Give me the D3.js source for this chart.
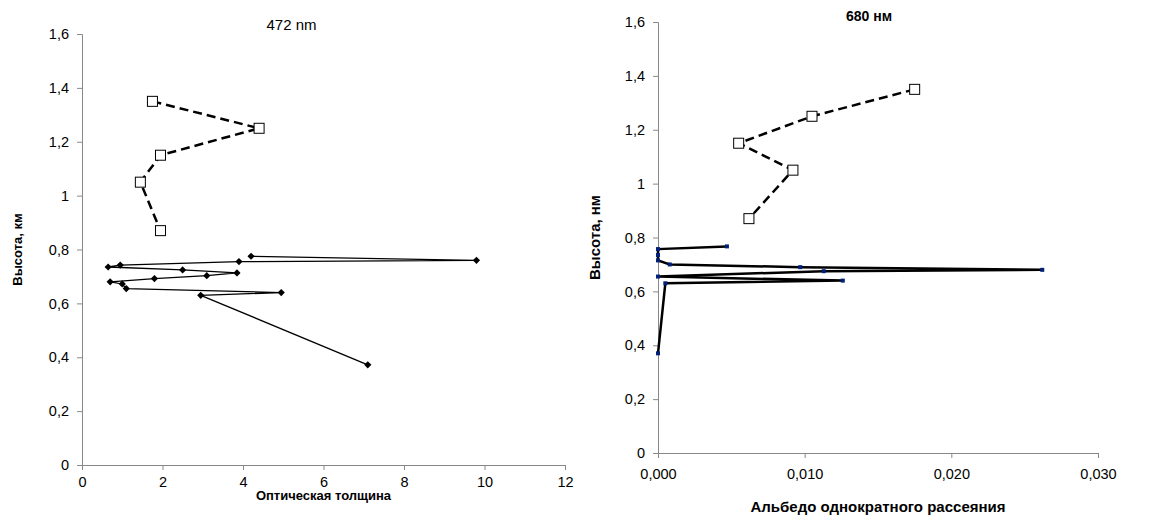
<!DOCTYPE html>
<html><head><meta charset="utf-8">
<script src="https://cdn.jsdelivr.net/npm/d3@7"></script>
<style>body{margin:0;background:#fff;font-family:"Liberation Sans",Arial,sans-serif}</style>
</head><body><div id="chart"></div>
<script>
// left panel: optical thickness at 472 nm
let leftSolidX = [4.2, 9.8, 3.9, 0.95, 0.65, 2.5, 3.85, 3.1, 1.8, 0.7, 1.0, 1.1, 4.95, 2.95, 7.1];
let leftSolidY = [0.775, 0.76, 0.755, 0.742, 0.735, 0.724, 0.713, 0.703, 0.692, 0.68, 0.672, 0.655, 0.64, 0.63, 0.372];
let leftDashX = [1.75, 4.4, 1.95, 1.45, 1.95];
let leftDashY = [1.35, 1.25, 1.15, 1.05, 0.87];
// right panel: single scattering albedo at 680 nm
let rightSolidX = [0.0047, 0, 0, 0, 0.0008, 0.0097, 0.0262, 0.0113, 0, 0.0126, 0.0005, 0];
let rightSolidY = [0.767, 0.757, 0.735, 0.715, 0.70, 0.69, 0.68, 0.675, 0.655, 0.64, 0.63, 0.37];
let rightDashX = [0.0175, 0.0105, 0.0055, 0.0092, 0.0062];
let rightDashY = [1.35, 1.25, 1.15, 1.05, 0.87];
let yTicks = [0, 0.2, 0.4, 0.6, 0.8, 1, 1.2, 1.4, 1.6];
let leftXTicks = [0, 2, 4, 6, 8, 10, 12];
let rightXTicks = [0, 0.01, 0.02, 0.03];

let svg = d3.select("#chart").append("svg").attr("width", 1152).attr("height", 527);
let comma = d => String(d).replace(".", ",");

function panel(o) {
  let x = d3.scaleLinear().domain(o.xd).range([o.l, o.r]);
  let y = d3.scaleLinear().domain([0, 1.6]).range([o.b, o.t]);
  let g = svg.append("g");
  g.append("g").attr("transform", "translate(0," + o.b + ")")
    .call(d3.axisBottom(x).tickValues(o.xt).tickFormat(o.xf).tickSizeOuter(0).tickSize(5).tickPadding(o.xpad));
  g.append("g").attr("transform", "translate(" + o.l + ",0)")
    .call(d3.axisLeft(y).tickValues(yTicks).tickFormat(comma).tickSizeOuter(0).tickSize(5).tickPadding(o.ypad));
  g.selectAll(".domain,.tick line").attr("stroke", "#888");
  g.selectAll(".tick text").attr("font-size", 14.5).attr("fill", "#000")
    .attr("font-family", "Liberation Sans, Arial");
  let line = d3.line().x(d => x(d[0])).y(d => y(d[1]));
  let solid = o.sx.map((v, i) => [v, o.sy[i]]);
  let dash = o.dx.map((v, i) => [v, o.dy[i]]);
  g.append("path").attr("d", line(solid)).attr("fill", "none").attr("stroke", "#000").attr("stroke-width", o.sw);
  g.append("path").attr("d", line(dash)).attr("fill", "none").attr("stroke", "#000")
    .attr("stroke-width", 2.5).attr("stroke-dasharray", "9,5");
  if (o.diamond) {
    g.selectAll(".m").data(solid).enter().append("path")
      .attr("d", d3.symbol(d3.symbolSquare, 26)())
      .attr("transform", d => "translate(" + x(d[0]) + "," + y(d[1]) + ") rotate(45)");
  } else {
    g.selectAll(".m").data(solid).enter().append("rect")
      .attr("x", d => x(d[0]) - 2).attr("y", d => y(d[1]) - 2).attr("width", 4).attr("height", 4)
      .attr("fill", "#00207a");
  }
  g.selectAll(".s").data(dash).enter().append("rect")
    .attr("x", d => x(d[0]) - 5).attr("y", d => y(d[1]) - 5).attr("width", 10).attr("height", 10)
    .attr("fill", "#fff").attr("stroke", "#000").attr("stroke-width", 1);
  g.append("text").attr("x", (o.l + o.r) / 2 + o.tdx).attr("y", o.ty).attr("text-anchor", "middle")
    .attr("font-size", o.tfs).attr("font-weight", o.tw).text(o.title);
  g.append("text").attr("x", (o.l + o.r) / 2).attr("y", o.xly).attr("text-anchor", "middle")
    .attr("font-size", o.lfs).attr("font-weight", "bold").text(o.xlabel);
  g.append("text").attr("transform", "translate(" + o.ylx + "," + (o.t + o.b) / 2 + ") rotate(-90)")
    .attr("text-anchor", "middle").attr("font-size", o.lfs).attr("font-weight", "bold").text(o.ylabel);
}

panel({l: 82, r: 565, t: 34, b: 465, xd: [0, 12], xt: leftXTicks, xf: d => d, xpad: 7, ypad: 8,
  sx: leftSolidX, sy: leftSolidY, dx: leftDashX, dy: leftDashY, sw: 1.3, diamond: true,
  title: "472 nm", tfs: 15, tw: "normal", ty: 30, tdx: -32,
  xlabel: "Оптическая толщина", xly: 500, ylabel: "Высота, км", ylx: 22, lfs: 13});
panel({l: 658, r: 1098, t: 22, b: 453, xd: [0, 0.03], xt: rightXTicks, xf: d => d3.format(".3f")(d).replace(".", ","), xpad: 11, ypad: 8,
  sx: rightSolidX, sy: rightSolidY, dx: rightDashX, dy: rightDashY, sw: 2.5, diamond: false,
  title: "680 нм", tfs: 14, tw: "bold", ty: 21, tdx: -9,
  xlabel: "Альбедо однократного рассеяния", xly: 512, ylabel: "Высота, нм", ylx: 600, lfs: 15});
</script></body></html>
